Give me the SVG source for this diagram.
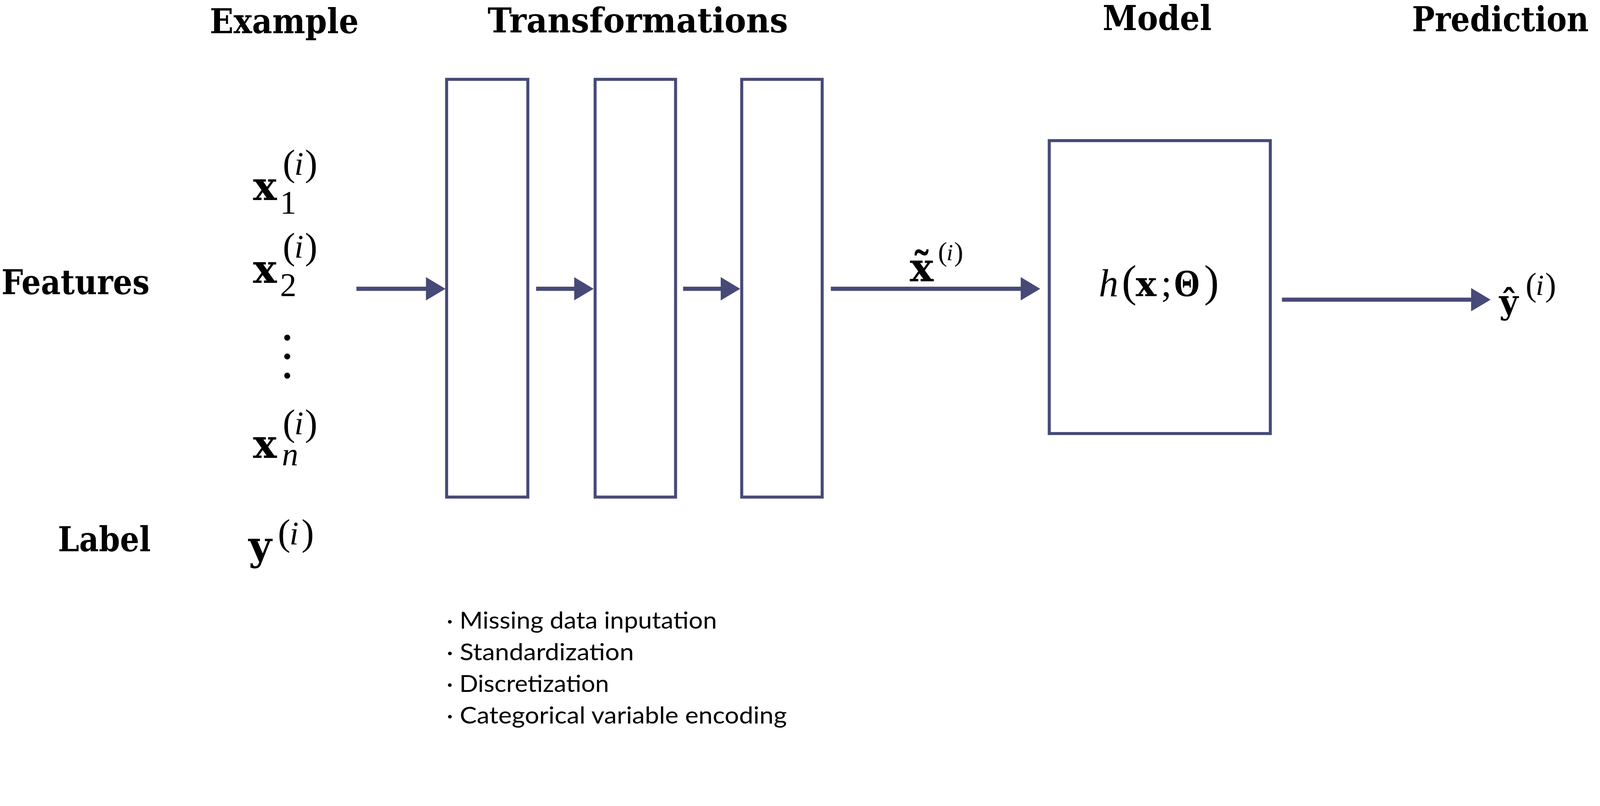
<svg xmlns="http://www.w3.org/2000/svg" width="4256" height="2063" viewBox="0 0 4256 2063">
<defs>
<style>
.hd{font-family:"DejaVu Serif","Liberation Serif",serif;font-weight:bold;font-size:92px;fill:#000}
.box{fill:none;stroke:#474a77;stroke-width:8}
.conn{stroke:#474a77;stroke-width:11;fill:none}
.mb{font-family:"DejaVu Serif","Liberation Serif",serif;font-weight:bold;fill:#000}
.mr{font-family:"Liberation Serif","Times New Roman",serif;fill:#000}
.mi{font-family:"Liberation Serif","Times New Roman",serif;font-style:italic;fill:#000}
.bl{font-family:Lato,"Liberation Sans",sans-serif;font-size:63px;fill:#000}
</style>
<marker id="ah" markerUnits="userSpaceOnUse" markerWidth="54" markerHeight="62" viewBox="0 -31 54 62" refX="2" refY="0" orient="auto">
<path d="M0,-31 L52,0 L0,31 Z" fill="#474a77"/>
</marker>
</defs>
<rect width="4256" height="2063" fill="#fff"/>
<g id="diagram" transform="scale(0.96241)">

<g id="headers">
<text class="hd" x="558" y="88" textLength="396" lengthAdjust="spacingAndGlyphs">Example</text>
<text class="hd" x="1297" y="86" textLength="799" lengthAdjust="spacingAndGlyphs">Transformations</text>
<text class="hd" x="2933" y="80" textLength="290" lengthAdjust="spacingAndGlyphs">Model</text>
<text class="hd" x="3756" y="83" textLength="470" lengthAdjust="spacingAndGlyphs">Prediction</text>
<text class="hd" x="4" y="782" textLength="394" lengthAdjust="spacingAndGlyphs">Features</text>
<text class="hd" x="154" y="1466" textLength="247" lengthAdjust="spacingAndGlyphs">Label</text>
</g>

<g id="example">
<g id="x1">
<text class="mb" x="673" y="532" font-size="106">x</text>
<text class="mr" x="745" y="568" font-size="87">1</text>
<text class="mr" x="752" y="467" font-size="100">(</text>
<text class="mi" x="783" y="465" font-size="88">i</text>
<text class="mr" x="811" y="467" font-size="100">)</text>
</g>
<g id="x2">
<text class="mb" x="673" y="752" font-size="106">x</text>
<text class="mr" x="745" y="788" font-size="87">2</text>
<text class="mr" x="752" y="688" font-size="100">(</text>
<text class="mi" x="783" y="686" font-size="88">i</text>
<text class="mr" x="811" y="688" font-size="100">)</text>
</g>
<g id="vdots" fill="#000">
<circle cx="764" cy="898" r="8"/>
<circle cx="764" cy="948" r="8"/>
<circle cx="764" cy="999" r="8"/>
</g>
<g id="xn">
<text class="mb" x="673" y="1218" font-size="106">x</text>
<text class="mi" x="750" y="1238" font-size="87">n</text>
<text class="mr" x="752" y="1157" font-size="100">(</text>
<text class="mi" x="783" y="1155" font-size="88">i</text>
<text class="mr" x="811" y="1157" font-size="100">)</text>
</g>
<g id="y">
<text class="mb" x="661" y="1488" font-size="106">y</text>
<text class="mr" x="739" y="1450" font-size="100">(</text>
<text class="mi" x="770" y="1448" font-size="88">i</text>
<text class="mr" x="802" y="1450" font-size="100">)</text>
</g>
</g>

<g id="transform1"><rect class="box" x="1188" y="211" width="216" height="1111"/></g>
<g id="transform2"><rect class="box" x="1583" y="211" width="214" height="1111"/></g>
<g id="transform3"><rect class="box" x="1973" y="211" width="214" height="1111"/></g>

<g id="model">
<rect class="box" x="2791" y="374" width="588" height="779"/>
<text class="mi" x="2923" y="788" font-size="104">h</text>
<text class="mr" x="2984" y="788" font-size="118">(</text>
<text class="mb" x="3021" y="788" font-size="92">x</text>
<text class="mr" x="3088" y="788" font-size="104">;</text>
<text class="mr" x="3122" y="788" font-size="104" font-weight="bold" textLength="70" lengthAdjust="spacingAndGlyphs">Θ</text>
<text class="mr" x="3203" y="788" font-size="118">)</text>
</g>

<g id="xtilde">
<text class="mb" x="2420" y="748" font-size="106">x&#x303;</text>
<text class="mr" x="2495" y="694" font-size="73">(</text>
<text class="mi" x="2518" y="692" font-size="62">i</text>
<text class="mr" x="2538" y="694" font-size="73">)</text>
</g>

<g id="prediction">
<text class="mb" x="3988" y="833" font-size="87">y&#x302;</text>
<text class="mr" x="4058" y="787" font-size="88">(</text>
<text class="mi" x="4085" y="785" font-size="78">i</text>
<text class="mr" x="4110" y="787" font-size="88">)</text>
</g>

<g id="bullets">
<text class="bl" x="1188" y="1672" textLength="719" lengthAdjust="spacingAndGlyphs">· Missing data inputation</text>
<text class="bl" x="1188" y="1756" textLength="498" lengthAdjust="spacingAndGlyphs">· Standardization</text>
<text class="bl" x="1188" y="1840" textLength="432" lengthAdjust="spacingAndGlyphs">· Discretization</text>
<text class="bl" x="1188" y="1924" textLength="905" lengthAdjust="spacingAndGlyphs">· Categorical variable encoding</text>
</g>

<g id="connectors">
<path class="conn" d="M948,768 H1135" marker-end="url(#ah)"/>
<path class="conn" d="M1426,768 H1529" marker-end="url(#ah)"/>
<path class="conn" d="M1817,768 H1919" marker-end="url(#ah)"/>
<path class="conn" d="M2210,768 H2717" marker-end="url(#ah)"/>
<path class="conn" d="M3410,797 H3915" marker-end="url(#ah)"/>
</g>
</g>
</svg>
